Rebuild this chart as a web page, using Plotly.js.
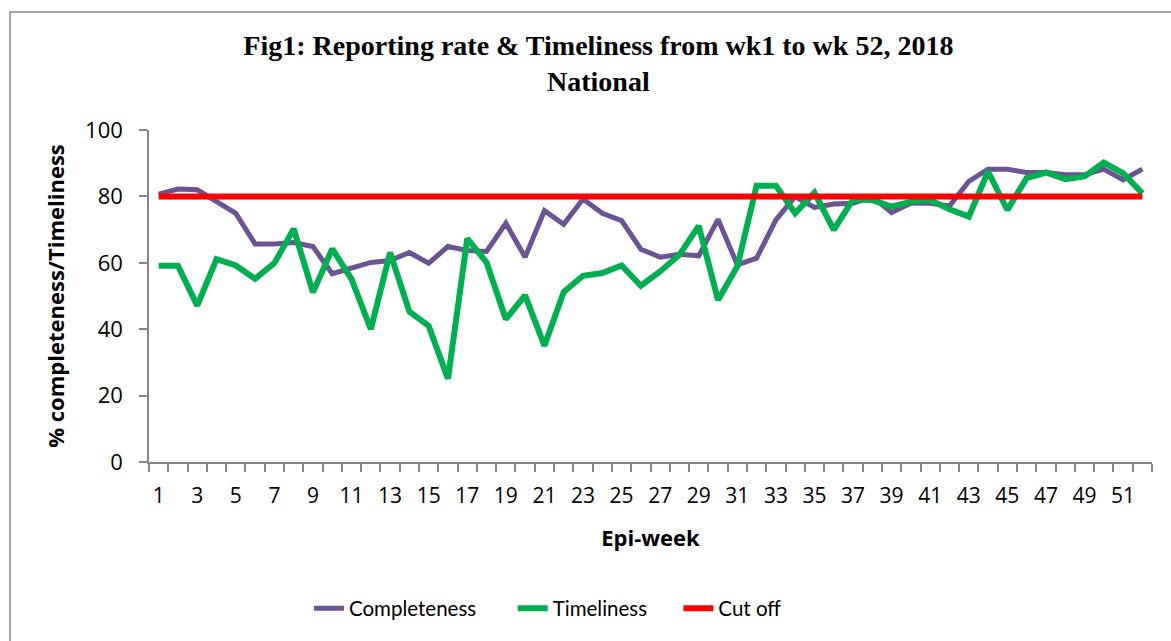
<!DOCTYPE html>
<html>
<head>
<meta charset="utf-8">
<script src="https://cdn.plot.ly/plotly-3.0.1.min.js"></script>
<style>
  html, body { margin: 0; padding: 0; background: #ffffff; }
  #chart { width: 1171px; height: 641px; }
</style>
</head>
<body>
<div id="chart"></div>
<script>
const weeks = [1,2,3,4,5,6,7,8,9,10,11,12,13,14,15,16,17,18,19,20,21,22,23,24,25,26,
  27,28,29,30,31,32,33,34,35,36,37,38,39,40,41,42,43,44,45,46,47,48,49,50,51,52];
const tickWeeks = [1,3,5,7,9,11,13,15,17,19,21,23,25,27,29,31,33,35,37,39,41,43,45,47,49,51];
const completeness = [80.7, 82.2, 82.0, 78.4, 74.9, 65.7, 65.7, 66.1, 64.9, 56.7, 58.4, 60.1, 60.7,
  63.1, 59.9, 64.9, 63.7, 63.4, 71.9, 61.7, 75.7, 71.6, 79.2, 74.9, 72.7, 64.1, 61.7, 62.6, 62.1,
  73.1, 59.4, 61.4, 72.9, 79.9, 76.7, 77.7, 77.9, 79.9, 75.1, 77.9, 77.9, 77.1, 84.5, 88.2, 88.2,
  87.2, 87.2, 86.5, 86.5, 88.2, 85.0, 88.2];
const timeliness = [59.1, 59.1, 47.1, 61.1, 59.2, 55.2, 59.9, 70.2, 51.1, 64.2, 55.1, 40.0, 63.1,
  45.3, 41.0, 25.1, 67.3, 60.1, 43.0, 50.2, 35.0, 51.2, 56.1, 56.9, 59.2, 53.1, 57.4, 62.4, 71.1,
  48.8, 58.9, 83.2, 83.2, 74.9, 81.1, 69.9, 79.1, 78.9, 76.9, 78.4, 78.9, 76.1, 73.9, 87.5, 75.9,
  85.5, 87.2, 85.2, 86.0, 90.2, 87.0, 80.9];
const cutoff = [80,80,80,80,80,80,80,80,80,80,80,80,80,80,80,80,80,80,80,80,80,80,80,80,80,80,
  80,80,80,80,80,80,80,80,80,80,80,80,80,80,80,80,80,80,80,80,80,80,80,80,80,80];
const yTicks = [0, 20, 40, 60, 80, 100];

const FONT = '"Open Sans", Lato, sans-serif';
const LEG_FONT = 'Lato, "Open Sans", sans-serif';
const AXIS_COLOR = '#868686';
const NB = '\u00A0';

const traces = [
  { x: weeks, y: completeness, name: 'Completeness' + NB.repeat(6), type: 'scatter', mode: 'lines',
    line: { color: '#6B5494', width: 5 } },
  { x: weeks, y: timeliness, name: 'Timeliness' + NB.repeat(5), type: 'scatter', mode: 'lines',
    line: { color: '#00B050', width: 6 } },
  { x: weeks, y: cutoff, name: 'Cut off', type: 'scatter', mode: 'lines',
    line: { color: '#FF0000', width: 6 } }
];

const layout = {
  width: 1171, height: 641,
  margin: { l: 149, r: 19, t: 130, b: 179 },
  paper_bgcolor: '#ffffff', plot_bgcolor: '#ffffff',
  font: { family: FONT, color: '#000000', size: 20 },
  title: {
    text: '<b>Fig1: Reporting rate &amp; Timeliness from wk1 to wk 52, 2018<br>National</b>',
    font: { family: '"Liberation Serif", "Times New Roman", serif', size: 28, color: '#000000' },
    x: 0.511, xanchor: 'center', xref: 'container',
    y: 0.9145, yanchor: 'top', yref: 'container'
  },
  xaxis: {
    range: [0.5, 52.5],
    tickmode: 'array', tickvals: tickWeeks, ticktext: tickWeeks.map(String),
    ticks: '', ticklabelstandoff: 14,
    tickfont: { family: FONT, size: 21 },
    showline: true, linecolor: AXIS_COLOR, linewidth: 1.5,
    showgrid: false, zeroline: false,
    minor: { tick0: 0.5, dtick: 1, ticks: 'outside', ticklen: 8, tickcolor: AXIS_COLOR, tickwidth: 1.5, showgrid: false },
    title: { text: '<b>Epi-week</b>', font: { family: FONT, size: 22 }, standoff: 23 }
  },
  yaxis: {
    range: [0, 100],
    tickmode: 'array', tickvals: yTicks,
    ticks: 'outside', ticklen: 8, tickcolor: AXIS_COLOR, tickwidth: 1.5,
    ticklabelstandoff: 12,
    tickfont: { family: FONT, size: 22 },
    showline: true, linecolor: AXIS_COLOR, linewidth: 1.5,
    showgrid: false, zeroline: false,
    title: { text: '<b>% completeness/Timeliness</b>', font: { family: FONT, size: 22 }, standoff: 14 }
  },
  showlegend: true,
  legend: {
    orientation: 'h', x: (309 - 149) / 1003, xanchor: 'left', y: -0.441, yanchor: 'middle',
    font: { family: LEG_FONT, size: 20.5 }, bgcolor: 'rgba(0,0,0,0)', itemwidth: 30
  },
  shapes: [{
    type: 'rect', xref: 'paper', yref: 'paper', layer: 'below',
    x0: (10 - 149) / 1003, x1: 1.2, y0: -1, y1: (462.3 - 12) / 332.3,
    line: { color: '#888888', width: 1.5 }, fillcolor: 'rgba(0,0,0,0)'
  }]
};

Plotly.newPlot('chart', traces, layout, { displayModeBar: false, responsive: false });
</script>
</body>
</html>
